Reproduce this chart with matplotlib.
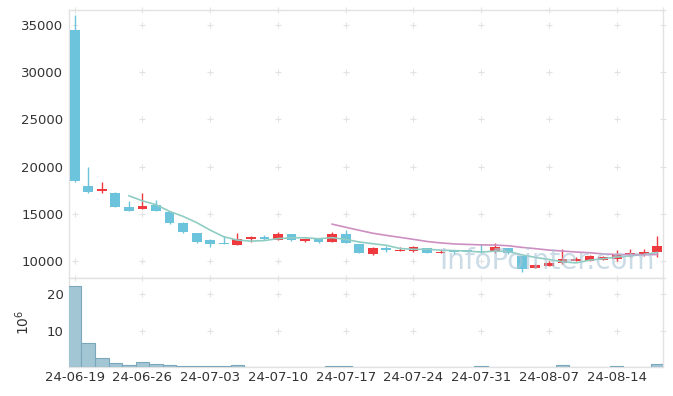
import numpy as np
import pandas as pd
import matplotlib
matplotlib.use('Agg')
import matplotlib.pyplot as plt

# daily prices (trading days only)
opens = [34470, 17950, 17450, 17200, 15720, 15510, 15900, 15190, 13990, 12950,
         12220, 11940, 11730, 12330, 12540, 12260, 12860, 12150, 12360, 12010,
         12890, 11800, 10740, 11380, 11060, 11060, 11340, 10850, 11060, 11160,
         11090, 10920, 11380, 10530, 9290, 9500, 9750, 10000, 10030, 10140,
         10210, 10600, 10710, 10990]
highs = [36060, 19930, 18340, 17340, 16360, 17170, 16430, 15300, 14160, 12960,
         12330, 12650, 12930, 12650, 12720, 13040, 12900, 12440, 12400, 13060,
         13280, 11800, 11480, 11590, 11520, 11590, 11340, 11130, 11200, 11200,
         11800, 11940, 11420, 10560, 9680, 10000, 11310, 10420, 10630, 10560,
         11130, 11310, 11240, 12620]
lows = [18340, 17170, 17170, 15680, 15280, 15480, 15250, 13950, 13000, 11960,
        11450, 11800, 11700, 11970, 12220, 12190, 12150, 12050, 11870, 12000,
        11870, 10880, 10670, 10920, 11050, 10990, 10880, 10850, 10780, 10950,
        10900, 10900, 10780, 8830, 9290, 9480, 9720, 9970, 9980, 10120,
        10000, 10460, 10530, 10460]
closes = [18500, 17340, 17630, 15750, 15330, 15830, 15330, 14060, 13100, 12040,
          11830, 11830, 12300, 12540, 12330, 12860, 12260, 12330, 12040, 12890,
          11940, 10880, 11410, 11200, 11200, 11520, 10880, 10990, 10920, 10990,
          10920, 11450, 10810, 9120, 9610, 9820, 10210, 10250, 10530, 10390,
          10740, 10810, 10990, 11590]
# volume in millions
volumes = [22.3, 6.6, 2.5, 1.1, 0.55, 1.4, 0.9, 0.5, 0.3, 0.3,
           0.3, 0.3, 0.5, 0.05, 0.05, 0.05, 0.05, 0.05, 0.05, 0.2,
           0.2, 0.05, 0.05, 0.05, 0.05, 0.05, 0.05, 0.05, 0.05, 0.05,
           0.2, 0.05, 0.05, 0.05, 0.05, 0.05, 0.5, 0.05, 0.05, 0.05,
           0.2, 0.05, 0.05, 0.85]
tick_labels = ['24-06-19', '24-06-26', '24-07-03', '24-07-10', '24-07-17',
               '24-07-24', '24-07-31', '24-08-07', '24-08-14']

df = pd.DataFrame({'open': opens, 'high': highs, 'low': lows,
                   'close': closes, 'volume': volumes})
df['ma5'] = df['close'].rolling(5).mean()
df['ma20'] = df['close'].rolling(20).mean()
x = np.arange(len(df))

UP = '#ee3a3e'
DOWN = '#6cc3dc'
GRID = '#e3e3e3'
SPINE = '#e2e2e2'

fig = plt.figure(figsize=(6.73, 3.96), dpi=100)
ax = fig.add_axes([69 / 673, 1 - 278 / 396, 594 / 673, 268 / 396])
axv = fig.add_axes([69 / 673, 1 - 367 / 396, 594 / 673, 89 / 396], sharex=ax)

colors = [UP if c >= o else DOWN for o, c in zip(df['open'], df['close'])]
bottoms = np.minimum(df['open'], df['close'])
heights = np.abs(df['close'] - df['open'])

ax.vlines(x, df['low'], df['high'], colors=colors, linewidth=1.0, zorder=2)
ax.bar(x, heights, bottom=bottoms, width=0.72, color=colors, zorder=3)
ax.plot(x, df['ma5'], color='#8fcdc3', linewidth=1.2, zorder=4)
ax.plot(x, df['ma20'], color='#cd8fc2', linewidth=1.2, zorder=4)

ax.set_xlim(-0.42, 43.42)
ax.set_ylim(8200, 36600)
ax.set_yticks(np.arange(10000, 35001, 5000))
ax.set_yticklabels([str(v) for v in range(10000, 35001, 5000)])

axv.bar(x, df['volume'], width=1.0, color='#a3c6d5', edgecolor='#7aa7ba',
        linewidth=0.8, zorder=3)
axv.set_ylim(0, 24.5)
axv.set_yticks([10, 20])
axv.set_ylabel(r'$10^6$', fontsize=10, color='#333333')
axv.yaxis.set_label_coords(-0.062, 0.5)

tick_pos = np.arange(0, len(df), 5)[:len(tick_labels)]
axv.set_xticks(tick_pos)
axv.set_xticklabels(tick_labels)
plt.setp(ax.get_xticklabels(), visible=False)

for a in (ax, axv):
    a.set_facecolor('white')
    for s in a.spines.values():
        s.set_color(SPINE)
        s.set_linewidth(1.0)
    a.tick_params(axis='both', colors=SPINE, labelcolor='#333333',
                  labelsize=9.5, length=0, pad=4)
    # small "+" grid marks at tick crossings and on the frame edges
    xs = list(tick_pos) + [a.get_xlim()[1]]
    ys = list(a.get_yticks()) + [a.get_ylim()[1]]
    gx, gy = np.meshgrid(xs, ys)
    a.plot(gx.ravel(), gy.ravel(), linestyle='none', marker='+',
           markersize=4.5, markeredgewidth=0.8, color=GRID, zorder=1,
           clip_on=False)

axv.tick_params(axis='x', pad=3)
ax.tick_params(axis='x', length=0)

# watermark
ax.text(0.805, 0.035, 'InfoPointer.com', transform=ax.transAxes,
        fontsize=20, color='#a9c6d6', alpha=0.6, ha='center',
        va='baseline', zorder=5)

fig.savefig('out.png', dpi=100, facecolor='white')
plt.close(fig)
